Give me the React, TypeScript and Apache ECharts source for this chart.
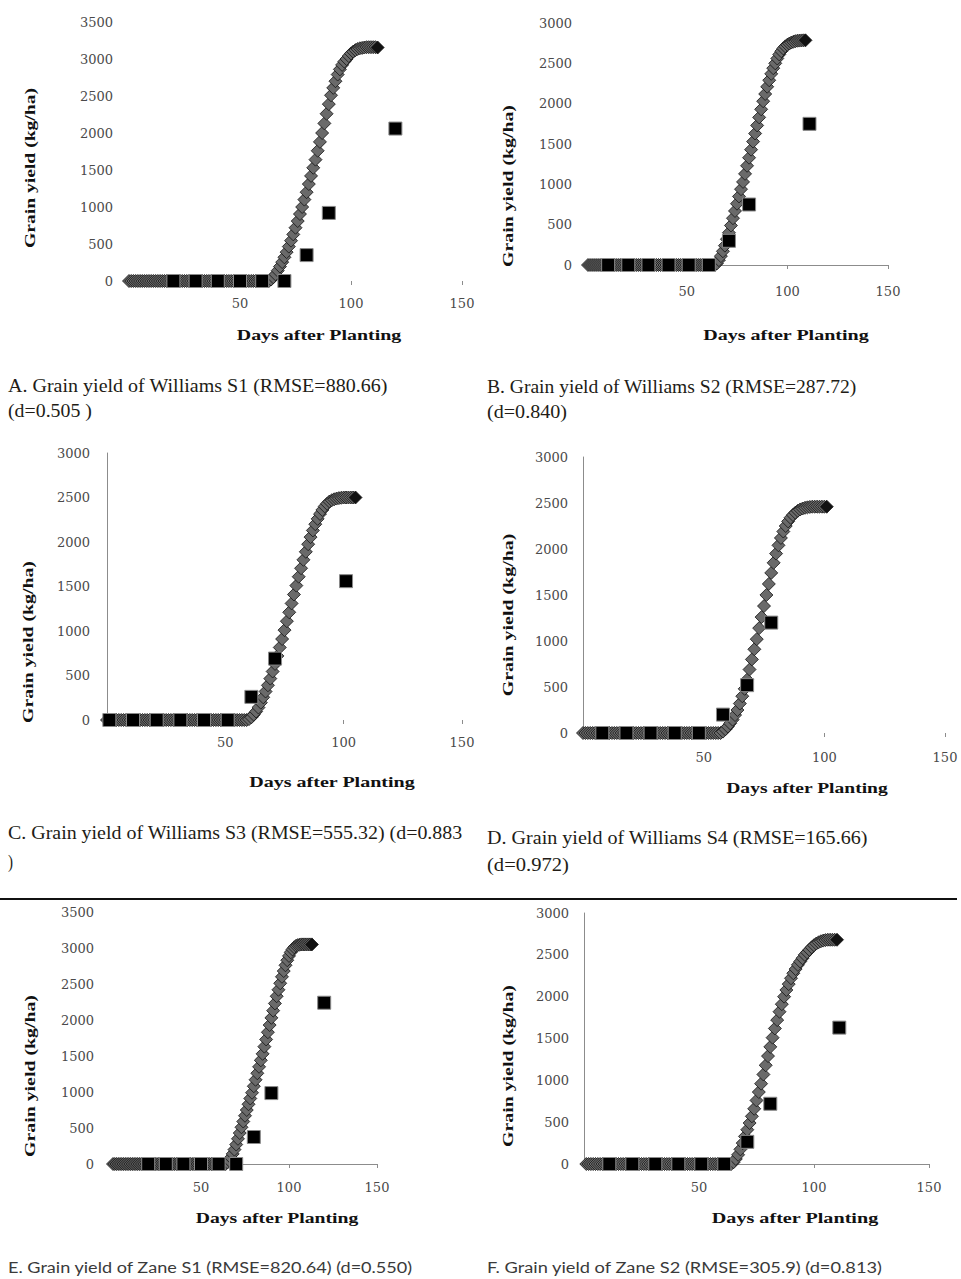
import React, { useEffect, useRef } from "react";
import * as echarts from "echarts";

// ---------------- DATA ----------------
const xTickValues = [0, 50, 100, 150];

// Simulated grain yield (kg/ha), one value per day starting at simStart
const simStartA = 0;
const simA = [
  0, 0, 0, 0, 0, 0, 0, 0, 0, 0,
  0, 0, 0, 0, 0, 0, 0, 0, 0, 0,
  0, 0, 0, 0, 0, 0, 0, 0, 0, 0,
  0, 0, 0, 0, 0, 0, 0, 0, 0, 0,
  0, 0, 0, 0, 0, 0, 0, 0, 0, 0,
  0, 0, 0, 0, 0, 0, 0, 0, 0, 0,
  0, 0, 0, 0,
  20, 50, 90, 140, 195, 255, 320, 390, 465, 545,
  630, 720, 810, 905, 1000, 1100, 1200, 1310, 1420, 1530,
  1640, 1760, 1880, 2000, 2130, 2260, 2390, 2510, 2610, 2700,
  2790, 2860, 2920, 2965, 3000, 3040, 3075, 3100, 3120, 3135,
  3145, 3150, 3155, 3160, 3160, 3160, 3160, 3160, 3155,
];
const simStartB = 1;
const simB = [
  0, 0, 0, 0, 0, 0, 0, 0, 0, 0,
  0, 0, 0, 0, 0, 0, 0, 0, 0, 0,
  0, 0, 0, 0, 0, 0, 0, 0, 0, 0,
  0, 0, 0, 0, 0, 0, 0, 0, 0, 0,
  0, 0, 0, 0, 0, 0, 0, 0, 0, 0,
  0, 0, 0, 0, 0, 0, 0, 0, 0, 0,
  0, 0, 0, 0,
  20, 60, 110, 170, 240, 320, 400, 490, 580, 670,
  760, 850, 940, 1030, 1130, 1230, 1330, 1430, 1530, 1630,
  1730, 1830, 1930, 2030, 2120, 2210, 2290, 2370, 2440, 2500,
  2560, 2610, 2650, 2685, 2710, 2730, 2745, 2758, 2767, 2775,
  2780, 2782, 2784, 2785, 2785,
];
const simStartC = 0;
const simC = [
  0, 0, 0, 0, 0, 0, 0, 0, 0, 0,
  0, 0, 0, 0, 0, 0, 0, 0, 0, 0,
  0, 0, 0, 0, 0, 0, 0, 0, 0, 0,
  0, 0, 0, 0, 0, 0, 0, 0, 0, 0,
  0, 0, 0, 0, 0, 0, 0, 0, 0, 0,
  0, 0, 0, 0, 0, 0, 0, 0, 0, 0,
  10, 30, 60, 95, 140, 195, 255, 320, 390, 465,
  545, 630, 720, 815, 910, 1010, 1110, 1210, 1310, 1410,
  1510, 1610, 1705, 1800, 1890, 1975, 2055, 2130, 2200, 2260,
  2315, 2360, 2400, 2430, 2455, 2470, 2480, 2488, 2493, 2497,
  2500, 2500, 2500, 2500, 2500, 2500,
];
const simStartD = 0;
const simD = [
  0, 0, 0, 0, 0, 0, 0, 0, 0, 0,
  0, 0, 0, 0, 0, 0, 0, 0, 0, 0,
  0, 0, 0, 0, 0, 0, 0, 0, 0, 0,
  0, 0, 0, 0, 0, 0, 0, 0, 0, 0,
  0, 0, 0, 0, 0, 0, 0, 0, 0, 0,
  0, 0, 0, 0, 0, 0, 0, 0,
  15, 40, 70, 105, 145, 195, 250, 320, 400, 480,
  580, 690, 800, 910, 1020, 1140, 1260, 1380, 1500, 1620,
  1740, 1850, 1950, 2040, 2120, 2190, 2250, 2300, 2340, 2370,
  2395, 2415, 2430, 2440, 2448, 2453, 2457, 2460, 2460, 2460,
  2460, 2460, 2460, 2460,
];
const simStartE = 0;
const simE = [
  0, 0, 0, 0, 0, 0, 0, 0, 0, 0,
  0, 0, 0, 0, 0, 0, 0, 0, 0, 0,
  0, 0, 0, 0, 0, 0, 0, 0, 0, 0,
  0, 0, 0, 0, 0, 0, 0, 0, 0, 0,
  0, 0, 0, 0, 0, 0, 0, 0, 0, 0,
  0, 0, 0, 0, 0, 0, 0, 0, 0, 0,
  0, 0, 0, 0, 0,
  20, 50, 90, 140, 200, 270, 350, 430, 510, 590,
  670, 750, 830, 910, 990, 1080, 1170, 1260, 1350, 1440,
  1530, 1630, 1730, 1830, 1930, 2030, 2130, 2230, 2330, 2420,
  2510, 2600, 2680, 2760, 2830, 2890, 2940, 2980, 3010, 3030,
  3040, 3045, 3050, 3050, 3050, 3050, 3050, 3050, 3050,
];
const simStartF = 1;
const simF = [
  0, 0, 0, 0, 0, 0, 0, 0, 0, 0,
  0, 0, 0, 0, 0, 0, 0, 0, 0, 0,
  0, 0, 0, 0, 0, 0, 0, 0, 0, 0,
  0, 0, 0, 0, 0, 0, 0, 0, 0, 0,
  0, 0, 0, 0, 0, 0, 0, 0, 0, 0,
  0, 0, 0, 0, 0, 0, 0, 0, 0, 0,
  0, 0, 0, 0,
  20, 60, 110, 175, 250, 330, 410, 490, 570, 660,
  760, 860, 960, 1070, 1180, 1290, 1400, 1510, 1620, 1720,
  1820, 1910, 2000, 2080, 2150, 2220, 2280, 2330, 2380, 2420,
  2460, 2500, 2530, 2560, 2590, 2615, 2635, 2650, 2662, 2670,
  2676, 2680, 2680, 2680, 2680, 2680,
];

// Observed grain yield (kg/ha)
const obsDaysA = [20, 30, 40, 50, 60, 70, 80, 90, 120];
const obsA = [0, 0, 0, 0, 0, 0, 350, 920, 2060];
const obsDaysB = [11, 21, 31, 41, 51, 61, 71, 81, 111];
const obsB = [0, 0, 0, 0, 0, 0, 300, 750, 1750];
const obsDaysC = [1, 11, 21, 31, 41, 51, 61, 71, 101];
const obsC = [0, 0, 0, 0, 0, 0, 260, 690, 1560];
const obsDaysD = [8, 18, 28, 38, 48, 58, 68, 78];
const obsD = [0, 0, 0, 0, 0, 200, 520, 1200];
const obsDaysE = [20, 30, 40, 50, 60, 70, 80, 90, 120];
const obsE = [0, 0, 0, 0, 0, 0, 375, 985, 2240];
const obsDaysF = [11, 21, 31, 41, 51, 61, 71, 81, 111];
const obsF = [0, 0, 0, 0, 0, 0, 265, 720, 1630];

const yMaxes = [3500, 3000, 3000, 3000, 3500, 3000];

const xAxisTitle = "Days after Planting";
const yAxisTitle = "Grain yield (kg/ha)";

const captionsA = ["A. Grain yield of Williams S1 (RMSE=880.66)", "(d=0.505 )"];
const captionsB = ["B. Grain yield of Williams S2 (RMSE=287.72)", "(d=0.840)"];
const captionsC = ["C. Grain yield of Williams S3 (RMSE=555.32) (d=0.883", ")"];
const captionsD = ["D. Grain yield of Williams S4 (RMSE=165.66)", "(d=0.972)"];
const captionsE = ["E. Grain yield of Zane S1 (RMSE=820.64) (d=0.550)"];
const captionsF = ["F. Grain yield of Zane S2 (RMSE=305.9) (d=0.813)"];

// ---------------- LAYOUT / STYLE ----------------
const panels = [
  {
    sim: simA, start: simStartA, obsX: obsDaysA, obsY: obsA, caps: captionsA,
    grid: { left: 129, top: 22, width: 333, height: 259 },
    xLine: false, yLine: false, xMargin: 16, yMargin: 16,
    xTitle: [319, 335, 165], yTitle: [30, 168, 160],
    capPos: [[8, 386, 380], [8, 411, 84]], capSans: false,
  },
  {
    sim: simB, start: simStartB, obsX: obsDaysB, obsY: obsB, caps: captionsB,
    grid: { left: 586, top: 23, width: 302, height: 242 },
    xLine: true, yLine: false, xMargin: 20, yMargin: 14,
    xTitle: [786, 335, 166], yTitle: [508, 186, 162],
    capPos: [[487, 387, 370], [487, 412, 80]], capSans: false,
  },
  {
    sim: simC, start: simStartC, obsX: obsDaysC, obsY: obsC, caps: captionsC,
    grid: { left: 107, top: 453, width: 355, height: 267 },
    xLine: false, yLine: true, xMargin: 16, yMargin: 17,
    xTitle: [332, 782, 166], yTitle: [28, 642, 162],
    capPos: [[8, 833, 455], [8, 862, 5]], capSans: false,
  },
  {
    sim: simD, start: simStartD, obsX: obsDaysD, obsY: obsD, caps: captionsD,
    grid: { left: 583, top: 457, width: 362, height: 276 },
    xLine: false, yLine: true, xMargin: 18, yMargin: 15,
    xTitle: [807, 788, 162], yTitle: [508, 615, 163],
    capPos: [[487, 838, 381], [487, 865, 82]], capSans: false,
  },
  {
    sim: simE, start: simStartE, obsX: obsDaysE, obsY: obsE, caps: captionsE,
    grid: { left: 113, top: 912, width: 264, height: 252 },
    xLine: true, yLine: false, xMargin: 17, yMargin: 19,
    xTitle: [277, 1218, 163], yTitle: [30, 1076, 162],
    capPos: [[8, 1268, 405]], capSans: true,
  },
  {
    sim: simF, start: simStartF, obsX: obsDaysF, obsY: obsF, caps: captionsF,
    grid: { left: 584, top: 913, width: 345, height: 251 },
    xLine: true, yLine: true, xMargin: 17, yMargin: 15,
    xTitle: [795, 1218, 167], yTitle: [508, 1066, 162],
    capPos: [[487, 1268, 396]], capSans: true,
  },
];

const SERIF = "Liberation Serif";
const TICK_FONT = "DejaVu Serif";
const SANS = "Lato";
const axisGray = "#8c8c8c";

let measureCtx: CanvasRenderingContext2D | null = null;
function fitScale(text: string, font: string, target: number): number {
  if (!measureCtx) measureCtx = document.createElement("canvas").getContext("2d");
  if (!measureCtx) return 1;
  measureCtx.font = font;
  const w = measureCtx.measureText(text).width;
  return w > 0 ? target / w : 1;
}

function buildOption() {
  const grids: any[] = [];
  const xAxes: any[] = [];
  const yAxes: any[] = [];
  const series: any[] = [];
  const graphics: any[] = [];

  panels.forEach((p, i) => {
    grids.push({ ...p.grid, containLabel: false, outerBoundsMode: "none" });
    xAxes.push({
      type: "value",
      gridIndex: i,
      min: xTickValues[0],
      max: xTickValues[xTickValues.length - 1],
      interval: xTickValues[1] - xTickValues[0],
      axisLine: { show: p.xLine, lineStyle: { color: axisGray, width: 1 } },
      axisTick: { show: true, length: 4, lineStyle: { color: axisGray } },
      splitLine: { show: false },
      axisLabel: {
        margin: p.xMargin,
        fontFamily: TICK_FONT,
        fontSize: 13,
        color: "#4a4a4a",
        formatter: (v: number) => (v === 0 ? "" : String(v)),
      },
    });
    yAxes.push({
      type: "value",
      gridIndex: i,
      min: 0,
      max: yMaxes[i],
      interval: 500,
      axisLine: { show: p.yLine, lineStyle: { color: axisGray, width: 1 } },
      axisTick: { show: false },
      splitLine: { show: false },
      axisLabel: {
        margin: p.yMargin,
        fontFamily: TICK_FONT,
        fontSize: 13,
        color: "#4a4a4a",
        formatter: (v: number) => String(v),
      },
    });
    const simData = p.sim.map((v, k) => {
      const last = k === p.sim.length - 1;
      return last
        ? { value: [p.start + k, v], itemStyle: { color: "#111", borderColor: "#111" } }
        : [p.start + k, v];
    });
    series.push({
      type: "scatter",
      xAxisIndex: i,
      yAxisIndex: i,
      symbol: "diamond",
      symbolSize: 13,
      clip: false,
      z: 2,
      itemStyle: { color: "#6a6a6a", borderColor: "#111", borderWidth: 0.8, opacity: 1 },
      data: simData,
    });
    series.push({
      type: "scatter",
      xAxisIndex: i,
      yAxisIndex: i,
      symbol: "rect",
      symbolSize: 13,
      clip: false,
      z: 3,
      itemStyle: { color: "#000", borderColor: "#8a8a8a", borderWidth: 1, opacity: 1 },
      data: p.obsX.map((d, k) => [d, p.obsY[k]]),
    });

    // axis titles
    const titleFont = `bold 15px "${SERIF}"`;
    graphics.push({
      type: "text",
      x: p.xTitle[0],
      y: p.xTitle[1],
      scaleX: fitScale(xAxisTitle, titleFont, p.xTitle[2]),
      style: {
        text: xAxisTitle,
        fontFamily: SERIF,
        fontSize: 15,
        fontWeight: "bold",
        fill: "#111",
        align: "center",
        verticalAlign: "middle",
      },
    });
    graphics.push({
      type: "text",
      x: p.yTitle[0],
      y: p.yTitle[1],
      rotation: Math.PI / 2,
      scaleX: fitScale(yAxisTitle, titleFont, p.yTitle[2]),
      style: {
        text: yAxisTitle,
        fontFamily: SERIF,
        fontSize: 15,
        fontWeight: "bold",
        fill: "#111",
        align: "center",
        verticalAlign: "middle",
      },
    });

    // captions
    p.caps.forEach((c, k) => {
      const [cx, cy, cw] = p.capPos[k];
      const fam = p.capSans ? SANS : SERIF;
      const size = p.capSans ? 15 : 18;
      graphics.push({
        type: "text",
        x: cx,
        y: cy,
        scaleX: fitScale(c, `${size}px "${fam}"`, cw),
        style: {
          text: c,
          fontFamily: fam,
          fontSize: size,
          fill: p.capSans ? "#3a3a3a" : "#221c16",
          align: "left",
          verticalAlign: "middle",
        },
      });
    });
  });

  graphics.push({
    type: "line",
    shape: { x1: 0, y1: 899, x2: 957, y2: 899 },
    style: { stroke: "#111", lineWidth: 2 },
  });

  return {
    animation: false,
    backgroundColor: "#ffffff",
    grid: grids,
    xAxis: xAxes,
    yAxis: yAxes,
    series,
    graphic: graphics,
  };
}

export default function App() {
  const ref = useRef<HTMLDivElement>(null);
  useEffect(() => {
    if (!ref.current) return;
    const chart = echarts.init(ref.current, undefined, { renderer: "svg" });
    chart.setOption(buildOption());
    return () => chart.dispose();
  }, []);
  return (
    <div
      ref={ref}
      style={{ position: "absolute", left: 0, top: 0, width: 961, height: 1279, background: "#fff" }}
    />
  );
}
